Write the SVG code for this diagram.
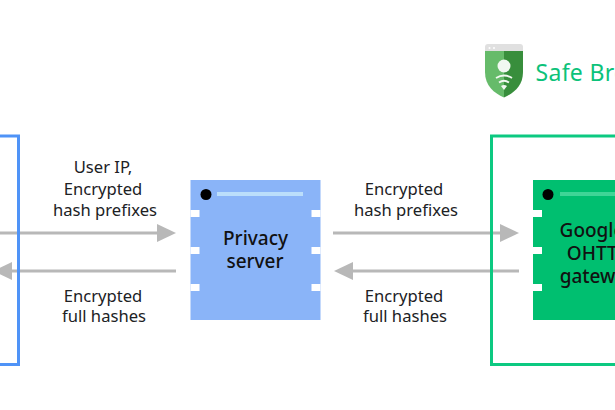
<svg xmlns="http://www.w3.org/2000/svg" width="615" height="410" viewBox="0 0 615 410">
  <style>
    text { font-family: "Noto Sans", "Liberation Sans", sans-serif; fill: #202124; text-anchor: middle; }
    .label { font-size: 16.600px; }
    .title { font-size: 19px; font-weight: 500; fill: #111; }
    .line { stroke: #b8b8b8; stroke-width: 3; fill: none; }
    .head { fill: #b8b8b8; }
    .frame { fill: none; stroke-width: 3; }
    .notch { fill: #fff; }
  </style>
  <rect width="615" height="410" fill="#fff"/>

  <g id="connectors">
    <path class="line" d="M0 233H158"/>
    <polygon class="head" points="157,224 176,233 157,242"/>
    <path class="line" d="M176 271H10"/>
    <polygon class="head" points="12,262 -7,271 12,280"/>
    <path class="line" d="M333 233H501"/>
    <polygon class="head" points="500,224 519,233 500,242"/>
    <path class="line" d="M519 271H352"/>
    <polygon class="head" points="353,262 334,271 353,280"/>
  </g>

  <g id="client-frame">
    <rect class="frame" x="-20" y="136" width="38.500" height="228.500" stroke="#4f93f7"/>
  </g>

  <g id="gateway-frame">
    <rect class="frame" x="491.500" y="136" width="160" height="228.500" stroke="#0cc981"/>
  </g>

  <g id="safe-browsing">
    <path d="M485 51V47a3 3 0 0 1 3-3H520a3 3 0 0 1 3 3V51Z" fill="#e0e0e0"/>
    <circle cx="489.500" cy="48" r="1" fill="#fff"/>
    <circle cx="494" cy="48" r="1" fill="#fff"/>
    <path d="M485 51H504V97.500C494 93 485 86 485 72Z" fill="#66bb6a"/>
    <path d="M523 51H504V97.500C514 93 523 86 523 72Z" fill="#388e3c"/>
    <circle cx="504" cy="66" r="6.500" fill="#f1f8f1"/>
    <path d="M496 78Q504 73 512 78M499 82.500Q504 79 509 82.500" fill="none" stroke="#f1f8f1" stroke-width="1.800"/>
    <path d="M501 86Q504 84 507 86L504 90Z" fill="#f1f8f1"/>
    <text x="535.500" y="81" font-size="23" style="fill:#0cc27a;text-anchor:start;letter-spacing:.3px">Safe Browsing</text>
  </g>

  <g id="privacy-server">
    <rect x="190.500" y="180" width="130" height="140" fill="#8ab4f8"/>
    <rect class="notch" x="190.500" y="210" width="9" height="7"/>
    <rect class="notch" x="190.500" y="247" width="9" height="7"/>
    <rect class="notch" x="190.500" y="284" width="9" height="7"/>
    <rect class="notch" x="311.500" y="210" width="9" height="7"/>
    <rect class="notch" x="311.500" y="247" width="9" height="7"/>
    <rect class="notch" x="311.500" y="284" width="9" height="7"/>
    <circle cx="206" cy="194.500" r="5.500" fill="#000"/>
    <rect x="217" y="192" width="86" height="4" fill="#bbdefb"/>
    <text class="title" x="255.500" y="244.500">Privacy</text>
    <text class="title" x="255" y="267.500">server</text>
  </g>

  <g id="ohttp-gateway">
    <rect x="533" y="180" width="130" height="140" fill="#00bf70"/>
    <rect class="notch" x="533" y="210" width="9" height="7"/>
    <rect class="notch" x="533" y="247" width="9" height="7"/>
    <rect class="notch" x="533" y="284" width="9" height="7"/>
    <circle cx="548" cy="194.500" r="5.500" fill="#000"/>
    <rect x="560" y="192" width="86" height="4" fill="#3fd596"/>
    <text class="title" x="592" y="236.500">Google</text>
    <text class="title" x="598" y="259.500">OHTTP</text>
    <text class="title" x="598" y="282.500">gateway</text>
  </g>

  <g id="labels">
    <text class="label" x="103" y="173">User IP,</text>
    <text class="label" x="103" y="195">Encrypted</text>
    <text class="label" x="105" y="216">hash prefixes</text>
    <text class="label" x="103" y="302">Encrypted</text>
    <text class="label" x="104" y="322">full hashes</text>
    <text class="label" x="404" y="195">Encrypted</text>
    <text class="label" x="406" y="216">hash prefixes</text>
    <text class="label" x="404" y="302">Encrypted</text>
    <text class="label" x="405" y="322">full hashes</text>
  </g>
</svg>
